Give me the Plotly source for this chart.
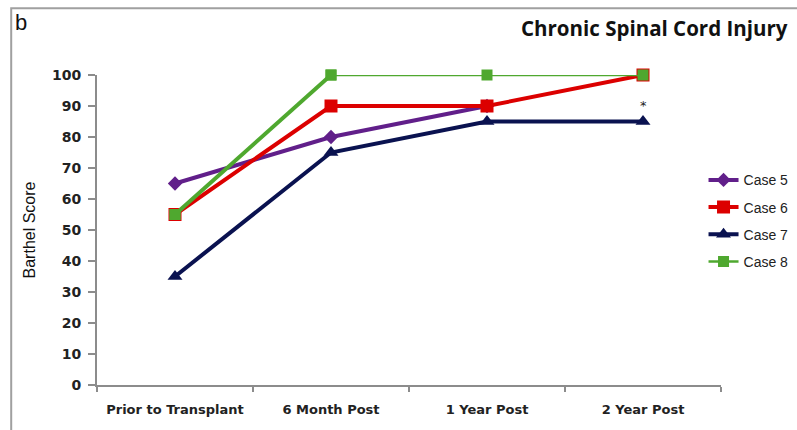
import plotly.graph_objects as go

# Barthel scores over time for the chronic spinal cord injury cases
timepoints = ["Prior to Transplant", "6 Month Post", "1 Year Post", "2 Year Post"]
case5 = [65, 80, 90, None]
case6 = [55, 90, 90, 100]
case7 = [35, 75, 85, 85]
case8 = [55, 100, 100, 100]
y_ticks = list(range(0, 101, 10))

series = [
    ("Case 5", case5, "#611f8a", "diamond", 11),
    ("Case 6", case6, "#dc0000", "square", 13),
    ("Case 7", case7, "#0a1250", "triangle-up", 13),
]

fig = go.Figure()
for name, vals, color, sym, size in series:
    fig.add_trace(go.Scatter(
        x=timepoints, y=vals, name=name, mode="lines+markers",
        line=dict(color=color, width=4),
        marker=dict(symbol=sym, size=size, color=color),
        cliponaxis=False, legendgroup=name,
    ))

# Case 8: thick rise to 6 months, thinner plateau afterwards
green = "#4fa82f"
fig.add_trace(go.Scatter(
    x=timepoints, y=case8, name="Case 8", mode="lines+markers",
    line=dict(color=green, width=2.5),
    marker=dict(symbol="square", size=11, color=green),
    cliponaxis=False, legendgroup="Case 8",
))
fig.add_trace(go.Scatter(
    x=timepoints[:2], y=case8[:2], mode="lines+markers",
    line=dict(color=green, width=4),
    marker=dict(symbol="square", size=11, color=green),
    cliponaxis=False, showlegend=False, legendgroup="Case 8",
))

axis_color = "#8c8c8c"
fig.update_layout(
    width=797, height=430,
    margin=dict(l=97, r=76, t=75, b=45, autoexpand=False),
    paper_bgcolor="white", plot_bgcolor="white",
    showlegend=True,
    legend=dict(x=0.972, y=0.712, xanchor="left", yanchor="top",
                font=dict(family="Liberation Sans", size=14, color="#222"),
                tracegroupgap=6, itemwidth=30, bgcolor="rgba(0,0,0,0)"),
    xaxis=dict(
        type="category", range=[-0.5, 3.5],
        showline=True, linecolor=axis_color, linewidth=2,
        ticks="outside", ticklen=5, tickcolor=axis_color, tickwidth=2,
        tickson="boundaries", showgrid=False, zeroline=False,
        ticklabelstandoff=11,
        tickfont=dict(family="DejaVu Sans", size=13, color="#222", weight="bold"),
    ),
    yaxis=dict(
        range=[0, 100], tickvals=y_ticks,
        showline=True, linecolor=axis_color, linewidth=2,
        ticks="outside", ticklen=7, tickcolor=axis_color, tickwidth=2,
        showgrid=False, zeroline=False, ticklabelstandoff=4,
        tickfont=dict(family="DejaVu Sans", size=14, color="#222", weight="bold"),
        title=dict(text="Barthel Score", standoff=12,
                   font=dict(family="Liberation Sans Narrow, Liberation Sans", size=16, color="#111")),
    ),
    shapes=[dict(type="rect", xref="paper", yref="paper",
                 x0=-0.1375, x1=1.2, y0=-0.3, y1=1.215,
                 line=dict(color="#a0a0a0", width=2))],
    annotations=[
        dict(text="b", xref="paper", yref="paper", x=-0.135, y=1.215,
             xanchor="left", yanchor="top", showarrow=False,
             font=dict(family="Liberation Sans", size=22, color="#111")),
        dict(text="<b>Chronic Spinal Cord Injury</b>", xref="paper", yref="paper",
             x=1.111, y=1.152, xanchor="right", yanchor="middle", showarrow=False,
             font=dict(family="Open Sans", size=20.5, color="#111")),
        dict(text="*", x=timepoints[3], y=case7[3], yshift=16, showarrow=False,
             font=dict(family="DejaVu Sans", size=13, color="#222")),
    ],
)

fig.write_html("out.html")
